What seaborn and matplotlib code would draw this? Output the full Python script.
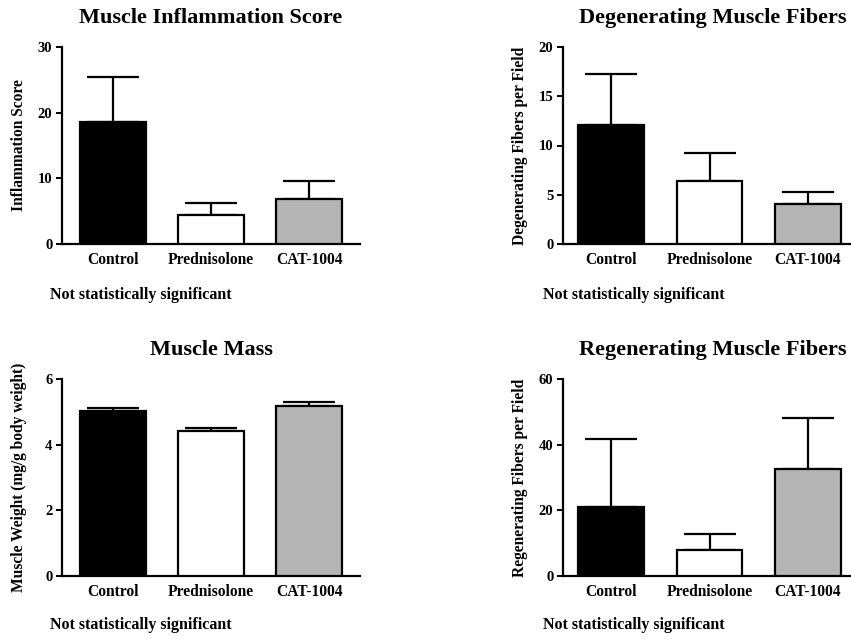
import matplotlib
matplotlib.use("Agg")
import matplotlib.pyplot as plt
import seaborn as sns
import pandas as pd

groups = ["Control", "Prednisolone", "CAT-1004"]
bar_colors = ["#000000", "#ffffff", "#b4b4b4"]

inflammation_mean = [18.6, 4.4, 6.85]
inflammation_err = [6.8, 1.8, 2.7]
degenerating_mean = [12.1, 6.4, 4.1]
degenerating_err = [5.2, 2.8, 1.2]
mass_mean = [5.04, 4.42, 5.19]
mass_err = [0.07, 0.09, 0.11]
regenerating_mean = [20.9, 7.9, 32.5]
regenerating_err = [20.7, 5.0, 15.5]

titles = ["Muscle Inflammation Score", "Degenerating Muscle Fibers",
          "Muscle Mass", "Regenerating Muscle Fibers"]
ylabels = ["Inflammation Score", "Degenerating Fibers per Field",
           "Muscle Weight (mg/g body weight)", "Regenerating Fibers per Field"]
yticks = [[0, 10, 20, 30], [0, 5, 10, 15, 20], [0, 2, 4, 6], [0, 20, 40, 60]]
note = "Not statistically significant"

sns.set_style("ticks")
plt.rcParams["font.family"] = ["Liberation Serif", "DejaVu Serif"]
plt.rcParams["font.weight"] = "bold"
plt.rcParams["text.color"] = "black"
plt.rcParams["axes.labelcolor"] = "black"

W, H = 851, 639
fig = plt.figure(figsize=(W / 100, H / 100), dpi=100)

# panel boxes in pixels: (left, top, right, bottom)
boxes = [(62, 47, 360, 244), (563, 47, 862, 244),
         (62, 379, 360, 576), (563, 379, 862, 576)]
xlims = [(-0.52, 2.52), (-0.49, 2.55), (-0.52, 2.52), (-0.49, 2.55)]
means = [inflammation_mean, degenerating_mean, mass_mean, regenerating_mean]
errs = [inflammation_err, degenerating_err, mass_err, regenerating_err]
note_pos = [(50, 295), (543, 295), (50, 625), (543, 625)]

for i in range(4):
    l, t, r, b = boxes[i]
    ax = fig.add_axes([l / W, 1 - b / H, (r - l) / W, (b - t) / H])
    df = pd.DataFrame({"group": groups, "value": means[i]})
    sns.barplot(data=df, x="group", y="value", hue="group", palette=bar_colors,
                edgecolor="black", linewidth=1.6, width=0.67, legend=False,
                ax=ax, zorder=3)
    ax.errorbar(range(3), means[i], yerr=[[0, 0, 0], errs[i]], fmt="none",
                ecolor="black", elinewidth=1.6, capsize=19, capthick=1.6,
                zorder=2)
    ax.set_xlim(*xlims[i])
    ax.set_ylim(yticks[i][0], yticks[i][-1])
    ax.set_yticks(yticks[i])
    ax.set_xlabel("")
    ax.set_ylabel(ylabels[i], fontsize=11.2, fontweight="bold", color="black")
    ax.yaxis.set_label_coords(-35 / (r - l), 0.5)
    ax.set_title(titles[i], fontsize=16, fontweight="bold", pad=17, color="black")
    for s in ["top", "right"]:
        ax.spines[s].set_visible(False)
    for s in ["left", "bottom"]:
        ax.spines[s].set_linewidth(1.6)
        ax.spines[s].set_color("black")
    ax.tick_params(axis="y", length=4, width=1.4, labelsize=10.5, pad=3,
                   colors="black", labelcolor="black")
    ax.tick_params(axis="x", length=0, labelsize=11.2, pad=5.5,
                   colors="black", labelcolor="black")
    for lab in ax.get_xticklabels() + ax.get_yticklabels():
        lab.set_fontweight("bold")
    ax.set_facecolor("white")
    ax.grid(False)
    nx, ny = note_pos[i]
    fig.text(nx / W, 1 - ny / H, note, fontsize=11.5, fontweight="bold",
             ha="left", va="center", color="black")

fig.savefig("out.png", dpi=100, facecolor="white")
